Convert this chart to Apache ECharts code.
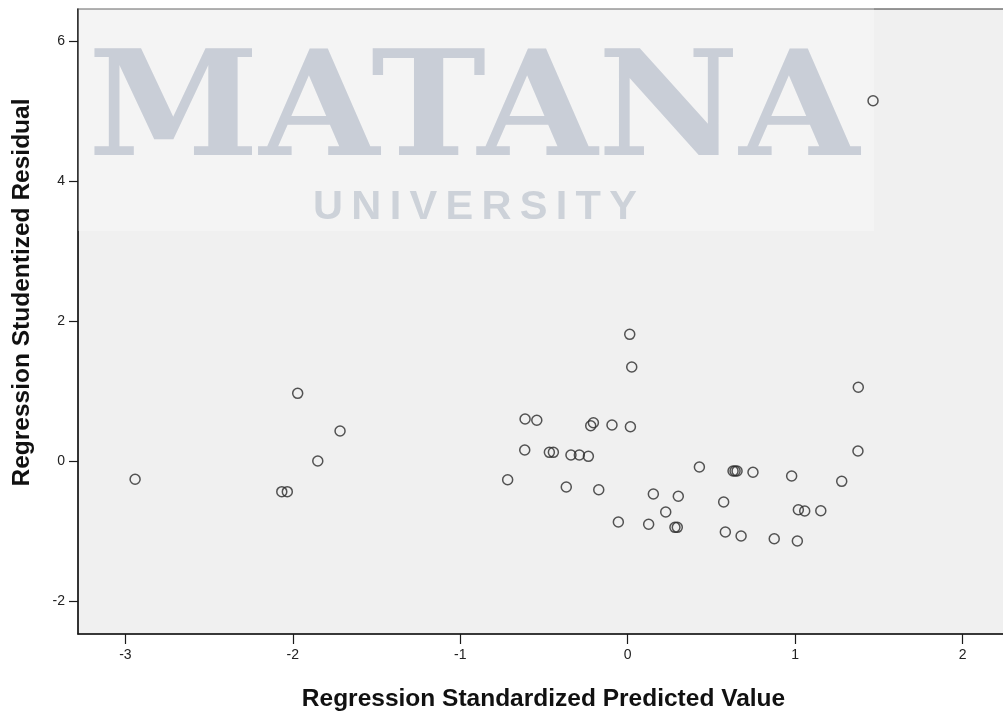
<!DOCTYPE html>
<html>
<head>
<meta charset="utf-8">
<script src="https://cdn.jsdelivr.net/npm/echarts@6/dist/echarts.min.js"></script>
<style>
html,body{margin:0;padding:0;background:#fff;}
#chart{width:1003px;height:713px;}
</style>
</head>
<body>
<div id="chart"></div>
<script>
// Regression Standardized Predicted Value (x)
var predicted = [-2.942, -2.066, -2.033, -1.971, -1.718, -1.851, -0.717, 0.012, 0.024, 1.377,
  1.465, -0.613, -0.543, -0.221, -0.205, -0.094, 0.016, -0.615, -0.468, -0.444,
  -0.339, -0.289, -0.235, 1.375, -0.367, -0.173, 0.428, 0.629, 0.641, 0.653,
  0.748, 0.979, 1.278, 0.153, 0.302, 0.573, 0.227, 1.019, 1.057, 1.153,
  -0.056, 0.125, 0.282, 0.296, 0.583, 0.677, 0.875, 1.013];
// Regression Studentized Residual (y)
var residual = [-0.254, -0.431, -0.431, 0.974, 0.436, 0.007, -0.260, 1.817, 1.350, 1.060,
  5.154, 0.607, 0.589, 0.511, 0.554, 0.521, 0.497, 0.164, 0.131, 0.131,
  0.093, 0.093, 0.074, 0.150, -0.364, -0.403, -0.079, -0.136, -0.136, -0.136,
  -0.154, -0.207, -0.283, -0.464, -0.497, -0.579, -0.721, -0.689, -0.707, -0.703,
  -0.864, -0.897, -0.940, -0.940, -1.007, -1.064, -1.103, -1.136];
var xTicks = [-3, -2, -1, 0, 1, 2];
var yTicks = [-2, 0, 2, 4, 6];
var xTitle = 'Regression Standardized Predicted Value';
var yTitle = 'Regression Studentized Residual';
var watermarkMain = 'MATANA';
var watermarkSub = 'U\u2009N\u2009I\u2009V\u2009E\u2009R\u2009S\u2009I\u2009T\u2009Y';

var points = predicted.map(function (v, i) { return [v, residual[i]]; });

var chart = echarts.init(document.getElementById('chart'), null, {renderer: 'canvas'});
var axisColor = '#1a1a1a';
chart.setOption({
  animation: false,
  backgroundColor: '#ffffff',
  grid: {
    left: 78, right: -6, top: 9, bottom: 79,
    containLabel: false, outerBoundsMode: 'none',
    show: true, backgroundColor: '#f0f0f0',
    borderColor: '#333333', borderWidth: 1.2
  },
  xAxis: {
    type: 'value', min: -3.283, max: 2.277,
    name: xTitle, nameLocation: 'middle', nameGap: 53,
    nameTextStyle: {fontFamily: 'Liberation Sans', fontWeight: 'bold', fontSize: 24.5, color: '#111'},
    axisLine: {show: true, onZero: false, lineStyle: {color: axisColor, width: 1.5}},
    axisTick: {show: true, length: 10, customValues: xTicks, lineStyle: {color: axisColor, width: 1.2}},
    axisLabel: {customValues: xTicks, margin: 14, fontFamily: 'Liberation Sans', fontSize: 14, color: '#222'},
    splitLine: {show: false}
  },
  yAxis: {
    type: 'value', min: -2.464, max: 6.464,
    name: yTitle, nameLocation: 'middle', nameGap: 43, nameRotate: 90,
    nameTextStyle: {fontFamily: 'Liberation Sans', fontWeight: 'bold', fontSize: 24.5, color: '#111', padding: [0, 0, 0, 58]},
    axisLine: {show: true, onZero: false, lineStyle: {color: axisColor, width: 1.5}},
    axisTick: {show: true, length: 9, customValues: yTicks, lineStyle: {color: axisColor, width: 1.2}},
    axisLabel: {customValues: yTicks, margin: 13, fontFamily: 'Liberation Sans', fontSize: 14, color: '#222'},
    splitLine: {show: false}
  },
  graphic: [
    {type: 'rect', z: 1, silent: true,
      shape: {x: 78, y: 0, width: 796, height: 231},
      style: {fill: 'rgba(255,255,255,0.25)'}},
    {type: 'text', z: 2, silent: true, x: 88, y: 117, scaleX: 1.06,
      style: {text: watermarkMain, fontFamily: 'DejaVu Serif', fontWeight: 'bold', fontSize: 146,
        fill: '#c9ced7', align: 'left', verticalAlign: 'middle'}},
    {type: 'text', z: 2, silent: true, x: 475, y: 208,
      style: {text: watermarkSub, fontFamily: 'Liberation Sans', fontWeight: 'bold', fontSize: 41.5,
        fill: '#cdd2d9', align: 'center', verticalAlign: 'middle'}}
  ],
  series: [{
    type: 'scatter', z: 5,
    data: points,
    symbol: 'circle', symbolSize: 10,
    itemStyle: {color: 'rgba(0,0,0,0)', borderColor: '#2a2a2a', borderWidth: 1.5}
  }]
});
</script>
</body>
</html>
